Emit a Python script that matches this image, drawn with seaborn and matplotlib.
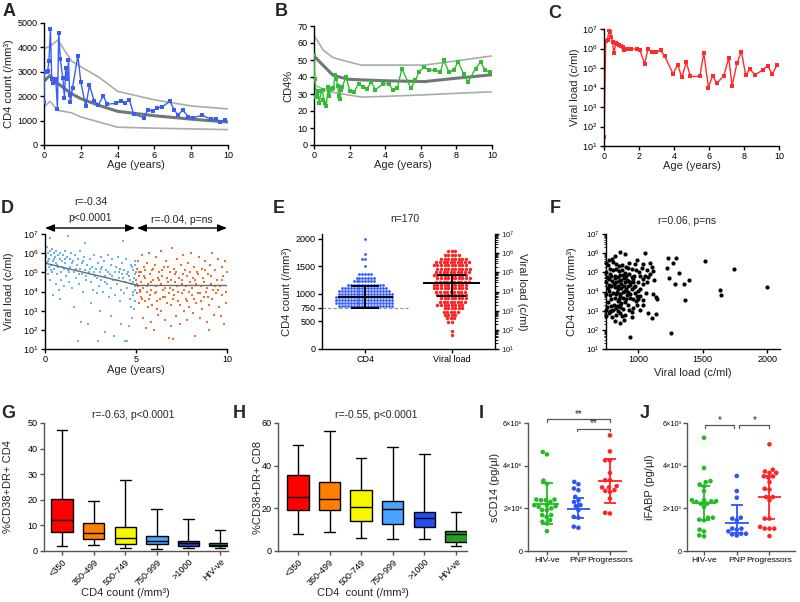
import warnings
warnings.filterwarnings('ignore')
import numpy as np
import pandas as pd
import matplotlib
matplotlib.use('Agg')
import matplotlib.pyplot as plt
import seaborn as sns
from matplotlib.ticker import LogLocator, NullLocator, NullFormatter

# ---------------- data ----------------
# A: CD4 count vs age
a_age = [0, 0.02, 0.15, 0.2, 0.27, 0.35, 0.42, 0.49, 0.56, 0.64,
         0.73, 0.8, 0.89, 1.02, 1.11, 1.18, 1.27, 1.33, 1.4, 1.44,
         1.55, 1.84, 2.0, 2.27, 2.47, 2.73, 2.95, 3.22, 3.44, 3.93,
         4.16, 4.42, 4.64, 4.87, 5.42, 5.65, 5.91, 6.16, 6.42, 6.84,
         7.09, 7.27, 7.55, 7.84, 8.09, 8.58, 9.09, 9.33, 9.58, 9.84]
a_cd4 = [1760, 3000, 3000, 3030, 3440, 4750, 2690, 2550, 2590, 2710,
         1490, 4610, 3510, 2750, 1930, 3140, 2710, 3480, 2040, 1750,
         2350, 3660, 2590, 1580, 2440, 1800, 1650, 2010, 1670, 1710,
         1820, 1740, 1850, 1270, 1120, 1450, 1390, 1530, 1560, 1790,
         1430, 1240, 1420, 1160, 1120, 1210, 1060, 1070, 950, 1030]
a_ref_age = [0, 0.33, 0.75, 1.5, 2, 3, 4, 6, 8, 10]
a_ref_mean = [2620, 2850, 2520, 2100, 1900, 1620, 1380, 1200, 1060, 940]
a_ref_upper = [3950, 4050, 4300, 3440, 3210, 2770, 2200, 1850, 1600, 1480]
a_ref_lower = [1560, 1790, 1420, 1320, 1150, 940, 730, 690, 660, 630]

# B: CD4% vs age
b_age = [0, 0.04, 0.13, 0.22, 0.3, 0.41, 0.49, 0.52, 0.62, 0.69,
         0.79, 0.85, 0.95, 1.03, 1.09, 1.18, 1.25, 1.33, 1.39, 1.44,
         1.5, 1.57, 1.8, 2.02, 2.25, 2.5, 2.75, 2.96, 3.22, 3.45,
         3.9, 4.2, 4.42, 4.68, 4.94, 5.43, 5.7, 5.9, 6.2, 6.44,
         6.8, 7.1, 7.3, 7.57, 7.85, 8.1, 8.4, 8.65, 9.08, 9.36,
         9.6, 9.9]
b_pct = [53, 39, 28, 32, 25, 31.5, 32.5, 26.6, 25, 23,
         34, 29, 33, 33.2, 33.4, 41, 39, 35, 29, 27,
         32.5, 34, 40, 31.5, 31.3, 36, 34, 33, 37, 32.5,
         36, 36, 32.5, 33.4, 45, 33.4, 38, 43, 46, 44,
         44, 43, 50, 43, 44, 49, 42, 37, 45, 49,
         44, 43]
b_ref_age = [0, 0.5, 1.07, 1.9, 2.66, 4, 6.2, 8, 10]
b_ref_mean = [52.4, 47, 41, 38.7, 38.3, 37.8, 37.3, 39.3, 41.3]
b_ref_upper = [64.7, 56, 51.4, 49, 47, 47, 47, 49.5, 52.4]
b_ref_lower = [35.4, 33, 31, 29.5, 28.2, 28.6, 29.5, 30.4, 31.3]

# C: viral load vs age (log10 exponents)
c_age = [0, 0.1, 0.2, 0.29, 0.34, 0.42, 0.49, 0.57, 0.67, 0.76,
         0.86, 0.95, 1.06, 1.14, 1.22, 1.33, 1.44, 1.56, 1.86, 2.05,
         2.32, 2.51, 2.74, 2.97, 3.23, 3.46, 3.95, 4.2, 4.45, 4.7,
         4.94, 5.48, 5.7, 5.97, 6.2, 6.46, 6.84, 7.13, 7.32, 7.6,
         7.85, 8.1, 8.33, 8.63, 9.09, 9.35, 9.62, 9.89]
c_vl_exp = [1.48, 6.41, 6.45, 6.97, 6.85, 6.59, 6.32, 5.77, 6.28, 6.25,
            6.18, 6.11, 6.08, 5.9, 5.99, 5.99, 5.97, 5.97, 5.97, 5.94,
            5.2, 5.97, 5.8, 5.8, 5.9, 5.63, 4.7, 5.17, 4.52, 5.3,
            4.57, 4.57, 5.77, 4.0, 4.6, 4.22, 4.6, 5.51, 4.09, 5.25,
            5.84, 4.62, 4.95, 4.65, 4.91, 5.12, 4.67, 5.17]

# D: viral load vs age, cohort (log10 exponents)
d_young_age = [0.02, 0.05, 0.08, 0.1, 0.12, 0.15, 0.18, 0.2, 0.22, 0.25,
               0.28, 0.3, 0.32, 0.35, 0.38, 0.4, 0.42, 0.45, 0.48, 0.5,
               0.55, 0.58, 0.6, 0.62, 0.65, 0.7, 0.72, 0.75, 0.8, 0.82,
               0.85, 0.88, 0.9, 0.95, 1.0, 1.02, 1.05, 1.1, 1.12, 1.15,
               1.2, 1.25, 1.28, 1.3, 1.35, 1.4, 1.45, 1.5, 1.55, 1.6,
               1.62, 1.65, 1.7, 1.75, 1.8, 1.82, 1.85, 1.9, 1.95, 2.0,
               2.02, 2.05, 2.1, 2.15, 2.2, 2.22, 2.25, 2.3, 2.35, 2.4,
               2.45, 2.5, 2.55, 2.6, 2.65, 2.7, 2.75, 2.8, 2.85, 2.9,
               2.92, 2.95, 3.0, 3.02, 3.05, 3.1, 3.15, 3.2, 3.25, 3.3,
               3.32, 3.35, 3.4, 3.45, 3.5, 3.55, 3.6, 3.62, 3.65, 3.7,
               3.75, 3.8, 3.82, 3.85, 3.9, 3.95, 4.0, 4.05, 4.1, 4.12,
               4.15, 4.2, 4.22, 4.25, 4.3, 4.32, 4.35, 4.4, 4.42, 4.45,
               4.5, 4.52, 4.55, 4.6, 4.62, 4.65, 4.7, 4.72, 4.75, 4.8,
               4.82, 4.85, 4.88, 4.9, 4.92, 4.95, 4.97, 4.99, 0.06, 0.14,
               0.33, 0.52, 0.68, 0.92, 1.08, 1.32, 1.48, 1.68, 1.88, 2.08,
               2.28, 2.48, 2.68, 2.88, 3.08, 3.28, 3.48, 3.68, 3.88, 4.08,
               4.28, 4.48, 4.68, 4.78, 4.84, 4.93, 4.96, 4.98, 4.94, 4.86]
d_young_exp = [6.2, 5.1, 5.8, 6.3, 5.5, 4.9, 6.0, 5.3, 5.7, 6.1,
               4.6, 6.8, 5.9, 5.4, 6.2, 5.0, 5.6, 3.8, 6.0, 5.2,
               5.8, 4.4, 6.1, 5.5, 4.9, 5.9, 5.3, 4.1, 3.6, 5.7,
               6.0, 5.0, 4.6, 5.6, 5.9, 4.3, 5.2, 6.1, 5.5, 4.8,
               5.8, 5.1, 6.9, 4.5, 5.7, 5.3, 6.0, 4.2, 5.6, 3.2,
               5.0, 5.9, 4.7, 5.4, 1.4, 5.7, 4.4, 5.2, 6.1, 2.4,
               4.9, 5.5, 4.0, 5.8, 6.55, 5.1, 4.6, 5.4, 2.3, 5.0,
               5.7, 3.4, 4.5, 5.3, 4.1, 5.9, 4.8, 5.2, 3.9, 1.4,
               5.5, 4.3, 3.0, 5.0, 5.8, 4.6, 5.3, 4.0, 5.6, 1.9,
               4.8, 5.1, 4.4, 5.9, 3.7, 4.9, 2.7, 5.4, 4.2, 5.7,
               4.6, 1.7, 5.0, 3.8, 5.3, 4.4, 5.8, 4.7, 3.5, 5.2,
               4.1, 2.3, 5.5, 4.9, 6.65, 3.9, 5.1, 1.4, 4.5, 5.7,
               1.4, 4.2, 5.0, 2.2, 4.8, 3.6, 5.4, 4.4, 3.2, 2.6,
               5.1, 4.0, 4.7, 3.1, 5.6, 4.3, 3.5, 5.0, 5.9, 5.6,
               5.1, 5.7, 5.4, 5.3, 5.7, 5.0, 5.5, 5.2, 4.9, 5.6,
               4.8, 5.2, 5.0, 4.7, 5.2, 4.5, 5.0, 4.8, 4.6, 5.0,
               4.7, 4.9, 4.6, 5.3, 4.5, 4.9, 4.1, 4.6, 5.4, 3.8]
d_old_age = [5.02, 5.05, 5.08, 5.1, 5.12, 5.15, 5.18, 5.2, 5.25, 5.28,
             5.3, 5.35, 5.38, 5.4, 5.45, 5.48, 5.5, 5.55, 5.58, 5.6,
             5.65, 5.68, 5.7, 5.75, 5.78, 5.8, 5.85, 5.88, 5.9, 5.95,
             6.0, 6.02, 6.05, 6.1, 6.12, 6.15, 6.2, 6.22, 6.25, 6.3,
             6.35, 6.38, 6.4, 6.45, 6.5, 6.55, 6.58, 6.6, 6.65, 6.7,
             6.75, 6.8, 6.82, 6.85, 6.9, 6.92, 6.95, 7.0, 7.02, 7.05,
             7.08, 7.1, 7.15, 7.2, 7.25, 7.28, 7.3, 7.35, 7.4, 7.45,
             7.5, 7.55, 7.6, 7.62, 7.65, 7.7, 7.75, 7.8, 7.82, 7.85,
             7.9, 7.95, 8.0, 8.05, 8.1, 8.15, 8.2, 8.22, 8.25, 8.3,
             8.35, 8.4, 8.45, 8.5, 8.55, 8.6, 8.65, 8.7, 8.75, 8.8,
             8.85, 8.9, 8.95, 9.0, 9.02, 9.05, 9.1, 9.15, 9.2, 9.25,
             9.3, 9.35, 9.4, 9.45, 9.5, 9.55, 9.6, 9.65, 9.7, 9.75,
             9.8, 9.85, 9.9, 9.92, 9.95, 9.98, 5.06, 5.22, 5.42, 5.62,
             5.82, 6.08, 6.28, 6.48, 6.68, 6.88, 7.12, 7.32, 7.52, 7.72,
             7.92, 8.12, 8.32, 8.52, 8.72, 8.92, 9.12, 9.32, 9.52, 9.72,
             5.14, 5.34, 5.52, 5.72, 5.92, 6.18, 6.42, 6.62, 6.78, 7.06,
             7.22, 7.42, 7.58, 7.78, 7.98, 8.18, 8.38, 8.58, 8.78, 8.98]
d_old_exp = [4.6, 5.2, 3.9, 4.3, 5.6, 3.4, 4.8, 4.1, 5.0, 3.7,
             4.5, 5.9, 2.6, 4.2, 5.3, 3.5, 4.7, 2.1, 4.0, 5.5,
             3.2, 4.4, 6.0, 3.8, 4.9, 2.4, 4.1, 5.1, 3.3, 4.6,
             2.0, 5.4, 3.9, 4.3, 5.8, 3.1, 4.7, 2.8, 5.0, 3.6,
             4.4, 6.1, 3.0, 4.8, 3.7, 5.3, 2.5, 4.2, 5.6, 3.4,
             4.5, 1.6, 3.9, 5.0, 2.2, 4.6, 3.3, 6.25, 4.1, 1.5,
             5.2, 3.8, 4.9, 2.7, 4.3, 5.7, 3.5, 4.7, 2.3, 5.4,
             3.9, 4.4, 5.9, 3.0, 4.1, 5.1, 3.6, 2.5, 4.8, 5.5,
             3.2, 4.5, 6.0, 3.8, 4.2, 2.9, 5.3, 1.7, 4.6, 3.4,
             5.0, 3.9, 5.8, 2.6, 4.3, 5.2, 3.1, 4.7, 3.7, 5.6,
             4.0, 2.4, 4.9, 3.3, 2.0, 5.4, 4.4, 3.6, 6.0, 4.1,
             2.8, 5.1, 3.9, 4.6, 5.7, 3.2, 4.3, 2.7, 5.3, 3.8,
             4.8, 2.3, 5.6, 4.0, 3.4, 5.0, 4.4, 4.0, 4.8, 4.3,
             4.5, 4.0, 4.6, 4.1, 4.7, 4.2, 4.5, 4.0, 4.6, 4.3,
             4.0, 4.7, 4.4, 3.9, 4.5, 4.2, 4.8, 4.3, 4.1, 4.6,
             5.0, 3.6, 5.1, 3.6, 5.2, 3.5, 5.1, 3.7, 5.3, 3.6,
             5.0, 3.3, 4.9, 3.5, 5.0, 3.6, 4.9, 3.5, 5.1, 3.7]
d_fit_young_age = [0, 5]
d_fit_young_exp = [5.48, 4.35]
d_fit_old_age = [5, 10]
d_fit_old_exp = [4.32, 4.32]

# E: CD4 counts and viral loads of 170 children (value levels and counts)
e_cd4_levels = [780, 835, 890, 945, 1000, 1055, 1110, 1165, 1230, 1291,
                1370, 1515, 1636, 1733, 2000]
e_cd4_counts = [19, 20, 20, 20, 19, 18, 16, 13, 8, 7,
                5, 1, 2, 1, 1]
e_vl_exp_levels = [6.1, 5.9, 5.72, 5.55, 5.38, 5.2, 5.03, 4.86, 4.68, 4.51,
                   4.34, 4.16, 3.99, 3.82, 3.64, 3.47, 3.3, 3.12, 2.95, 2.78,
                   2.6, 2.43, 1.93, 1.72]
e_vl_counts = [3, 5, 8, 10, 10, 10, 10, 10, 10, 10,
               10, 10, 9, 9, 8, 8, 8, 6, 5, 4,
               3, 2, 1, 1]
e_cd4_summary = [740, 945, 1140]          # low, centre, high
e_vl_summary_exp = [3.74, 4.44, 4.87]

# F: CD4 count (x) vs viral load (y, log10 exponent)
f_cd4 = [1520, 1741, 2001, 1632, 1642, 1364, 1252, 935, 1395, 1354,
         1315, 1294, 1232, 1268, 1221, 1242, 1286, 862, 896, 1050,
         816, 795, 774, 750, 766, 992, 977, 930, 1034, 1026,
         1104, 1117, 1052, 1078, 1122, 1013, 1000, 1039, 956, 935,
         922, 1013, 1117, 1138, 1148, 1039, 1013, 1034, 1013, 1078,
         1104, 1138, 948, 953, 901, 891, 857, 821, 753, 750,
         779, 805, 831, 857, 883, 844, 792, 766, 753, 766,
         753, 758, 753, 779, 805, 831, 852, 878, 896, 818,
         844, 862, 888, 909, 930, 948, 966, 800, 826, 852,
         870, 896, 914, 940, 961, 792, 818, 844, 870, 896,
         922, 948, 974, 805, 831, 857, 883, 909, 935, 961,
         982, 818, 844, 870, 792, 810, 836, 862, 896, 922,
         987, 1000, 774, 784, 878, 904, 922, 805, 831, 852,
         948, 982, 1008, 1065, 1091, 1039, 1065, 974, 987, 961,
         930, 857, 826, 878, 800, 774, 784, 818, 836, 862,
         888, 914, 940, 966, 770, 790, 812, 840, 865, 885,
         905, 760, 775, 790, 850, 880, 920, 1000, 1060, 1090]
f_vl_exp = [5.58, 5.17, 4.23, 4.09, 3.84, 3.55, 1.81, 1.62, 4.60, 4.39,
            4.94, 5.76, 5.76, 5.49, 5.24, 4.69, 4.37, 6.08, 5.97, 6.00,
            5.83, 5.72, 5.63, 5.49, 5.37, 5.65, 5.44, 5.47, 5.45, 5.22,
            5.26, 5.05, 4.83, 4.74, 4.62, 4.83, 4.51, 4.39, 4.66, 4.48,
            4.30, 4.12, 3.89, 3.71, 3.63, 3.54, 3.77, 3.32, 3.06, 2.88,
            2.61, 2.81, 2.95, 2.65, 2.77, 2.52, 2.35, 2.47, 2.74, 3.02,
            2.97, 3.06, 3.13, 3.20, 3.11, 2.97, 3.23, 3.45, 3.86, 4.16,
            4.48, 4.74, 5.01, 5.19, 5.10, 5.19, 5.05, 5.10, 4.98, 4.83,
            4.74, 4.87, 4.69, 4.80, 4.92, 4.74, 4.83, 4.57, 4.48, 4.57,
            4.39, 4.48, 4.62, 4.34, 4.51, 4.30, 4.21, 4.12, 4.16, 4.03,
            3.98, 4.12, 3.94, 3.94, 3.86, 3.77, 3.68, 3.59, 3.68, 3.63,
            3.50, 3.68, 3.50, 3.41, 3.59, 3.32, 3.23, 3.32, 3.45, 3.27,
            3.77, 3.59, 4.66, 4.92, 5.37, 5.28, 5.22, 5.54, 5.45, 5.33,
            5.15, 5.10, 5.01, 5.10, 4.92, 4.66, 4.48, 4.30, 3.27, 3.15,
            3.06, 2.88, 2.79, 2.70, 2.67, 4.03, 3.80, 4.69, 3.98, 3.89,
            4.30, 3.80, 3.86, 4.21, 4.35, 4.80, 4.40, 4.30, 4.60, 3.95,
            4.15, 3.20, 2.90, 3.00, 3.60, 4.85, 4.55, 4.05, 3.90, 5.50]

# G / H: activated T cells by CD4 stratum (box summaries)
gh_groups = ['<350', '350-499', '500-749', '750-999', '>1000', 'HIV-ve']
g_low = [2.0, 2.2, 1.2, 0.6, 1.2, 1.2]
g_q1 = [7.6, 4.8, 2.6, 2.6, 2.1, 1.8]
g_med = [12.3, 7.0, 4.9, 4.0, 3.0, 2.5]
g_q3 = [20.3, 10.9, 9.3, 5.8, 4.0, 3.1]
g_high = [47.3, 19.4, 27.7, 16.3, 12.5, 8.1]
h_low = [8.0, 8.9, 6.3, 5.8, 5.5, 2.4]
h_q1 = [19.1, 19.1, 14.1, 12.5, 11.2, 4.4]
h_med = [25.3, 24.4, 20.5, 19.6, 15.6, 8.0]
h_q3 = [35.6, 32.4, 28.8, 23.6, 18.5, 9.6]
h_high = [49.7, 56.2, 43.6, 48.8, 45.6, 18.5]
g_colors = ['#ff0000', '#ff8000', '#f7f700', '#48a4ff', '#2a44c8', '#22a022']
h_colors = ['#ff0000', '#ff8000', '#f7f700', '#48a4ff', '#2150f5', '#22a022']

# I / J: biomarkers by group
ij_groups = ['HIV-ve', 'PNP', 'Progressors']
ij_colors = ['#22bb22', '#2d55f5', '#ff2424']
i_hiv = [4.64, 4.53, 3.30, 3.15, 2.41, 2.41, 2.38, 2.38, 2.30, 2.15, 2.15, 2.10,
         2.00, 2.07, 1.92, 1.92, 1.68, 1.68, 1.60, 1.45, 1.29, 1.37, 0.93]
i_pnp = [3.24, 3.13, 2.93, 2.85, 2.54, 2.38, 2.30, 2.15, 2.10, 1.92, 1.60,
         1.56, 1.14, 1.09]
i_prog = [5.42, 4.67, 4.25, 4.25, 3.66, 3.32, 3.32, 3.04, 2.98, 2.98, 2.85,
          2.82, 2.77, 2.46, 1.79, 1.76]
i_low = [1.28, 1.56, 2.27]
i_med = [2.20, 1.98, 3.29]
i_high = [3.18, 2.49, 4.30]
j_hiv = [5.31, 3.89, 3.28, 3.23, 3.12, 3.03, 2.81, 2.38, 2.38, 2.34, 2.30, 2.33,
         2.22, 2.22, 2.06, 1.47, 1.44, 1.56, 1.56, 1.00, 0.92, 0.73, 0.69]
j_pnp = [3.52, 2.81, 2.50, 1.52, 1.56, 1.44, 1.05, 1.05, 1.00, 0.78, 0.73,
         0.81, 0.81, 0.92]
j_prog = [5.00, 3.73, 3.81, 3.66, 3.66, 3.50, 3.50, 3.44, 3.23, 2.88, 2.92,
          2.53, 2.38, 2.53, 1.52, 1.52, 1.13, 1.05, 1.05, 1.05, 0.70]
j_low = [1.47, 0.85, 1.52]
j_med = [2.25, 1.31, 2.55]
j_high = [3.05, 2.17, 3.50]

# ---------------- styling ----------------
sns.set_theme(style='ticks')
plt.rcParams['font.family'] = ['Liberation Sans', 'DejaVu Sans']
plt.rcParams['axes.unicode_minus'] = False

W, H = 800, 602
TICK = 6.5
LAB = 8
GRAY_D = '#6e7874'
GRAY_L = '#a6aeac'

fig = plt.figure(figsize=(8, 6.02), dpi=100)
BOX = {}


def make_ax(l, t, r, b):
    ax = fig.add_axes([l / W, 1 - b / H, (r - l) / W, (b - t) / H])
    BOX[ax] = (l, t, r, b)
    return ax


def style(ax, spine='black'):
    sns.despine(ax=ax)
    for s in ('left', 'bottom'):
        ax.spines[s].set_linewidth(1.0)
        ax.spines[s].set_color(spine)
    ax.tick_params(direction='out', length=3, width=1.0, color=spine,
                   labelcolor='black', labelsize=TICK, pad=1.5)
    ax.grid(False)


def ylab(ax, text, right_px):
    l, t, r, b = BOX[ax]
    ax.set_ylabel(text, fontsize=LAB)
    ax.yaxis.set_label_coords((right_px - l) / (r - l), 0.5)


def xlab(ax, text, top_px, center_px=None):
    l, t, r, b = BOX[ax]
    ax.set_xlabel(text, fontsize=LAB)
    cx = 0.5 if center_px is None else (center_px - l) / (r - l)
    ax.xaxis.set_label_coords(cx, -(top_px - b) / (b - t))


def log_axis(axis, minor=False):
    axis.set_major_locator(LogLocator(base=10, numticks=10))
    if minor:
        axis.set_minor_locator(LogLocator(base=10, subs=np.arange(2, 10), numticks=10))
        axis.set_minor_formatter(NullFormatter())
    else:
        axis.set_minor_locator(NullLocator())


def letter(x, y, s):
    fig.text(x / W, 1 - y / H, s, fontsize=13, fontweight='bold', va='top', ha='left')


def med_bar(ax, x, low, mid, high, color, hw_mid, hw_cap, lw):
    ax.hlines(mid, x - hw_mid, x + hw_mid, color=color, lw=lw, zorder=6)
    ax.hlines([low, high], x - hw_cap, x + hw_cap, color=color, lw=lw, zorder=6)
    ax.vlines(x, low, high, color=color, lw=lw, zorder=6)


# ---------------- A ----------------
axA = make_ax(44, 23, 228, 145)
for yy, c, lw in ((a_ref_upper, GRAY_L, 1.2), (a_ref_lower, GRAY_L, 1.2), (a_ref_mean, GRAY_D, 2.2)):
    sns.lineplot(x=a_ref_age, y=yy, color=c, lw=lw, ax=axA, zorder=1)
sns.lineplot(x=a_age, y=a_cd4, color='#3a5df2', lw=1.0, marker='s', markersize=2.2,
             markeredgewidth=0, ax=axA, zorder=3)
axA.set_xlim(0, 10)
axA.set_ylim(0, 5000)
axA.set_xticks(range(0, 11, 2))
axA.set_yticks(range(0, 5001, 1000))
style(axA)
ylab(axA, 'CD4 count (/mm³)', 14)
xlab(axA, 'Age (years)', 160)

# ---------------- B ----------------
axB = make_ax(314, 26, 492, 145)
for yy, c, lw in ((b_ref_upper, GRAY_L, 1.2), (b_ref_lower, GRAY_L, 1.2), (b_ref_mean, GRAY_D, 2.2)):
    sns.lineplot(x=b_ref_age, y=yy, color=c, lw=lw, ax=axB, zorder=1)
sns.lineplot(x=b_age, y=b_pct, color='#33bb33', lw=1.0, marker='s', markersize=2.2,
             markeredgewidth=0, ax=axB, zorder=3)
axB.set_xlim(0, 10)
axB.set_ylim(0, 70)
axB.set_xticks(range(0, 11, 2))
axB.set_yticks(range(0, 71, 10))
style(axB)
ylab(axB, 'CD4%', 293)
xlab(axB, 'Age (years)', 160)

# ---------------- C ----------------
axC = make_ax(604, 29, 779, 146)
axC.set_yscale('log')
sns.lineplot(x=c_age, y=10.0 ** np.array(c_vl_exp), color='#ff2a2a', lw=1.0, marker='s',
             markersize=2.2, markeredgewidth=0, ax=axC)
axC.set_xlim(0, 10)
axC.set_ylim(10, 1e7)
axC.set_xticks(range(0, 11, 2))
log_axis(axC.yaxis)
style(axC)
ylab(axC, 'Viral load (c/ml)', 580)
xlab(axC, 'Age (years)', 161)

# ---------------- D ----------------
axD = make_ax(45, 234, 227, 349)
axD.set_yscale('log')
sns.scatterplot(x=d_young_age, y=10.0 ** np.array(d_young_exp), color='#63b3f7', marker='s',
                s=4.5, linewidth=0, ax=axD)
sns.scatterplot(x=d_old_age, y=10.0 ** np.array(d_old_exp), color='#ff6a21', marker='s',
                s=4.5, linewidth=0, ax=axD)
sns.lineplot(x=d_fit_young_age, y=10.0 ** np.array(d_fit_young_exp), color='#6a6a6a', lw=1.0, ax=axD)
sns.lineplot(x=d_fit_old_age, y=10.0 ** np.array(d_fit_old_exp), color='#6a6a6a', lw=1.0, ax=axD)
axD.set_xlim(0, 10)
axD.set_ylim(10, 1e7)
axD.set_xticks([0, 5, 10])
log_axis(axD.yaxis)
style(axD)
ylab(axD, 'Viral load (c/ml)', 14)
xlab(axD, 'Age (years)', 365)
arrow_kw = dict(arrowstyle='<|-|>,head_length=0.45,head_width=0.18', color='black', lw=1.0,
                shrinkA=0, shrinkB=0)
axD.annotate('', xy=(0, 1.052), xytext=(4.95, 1.052), xycoords=('data', 'axes fraction'),
             textcoords=('data', 'axes fraction'), arrowprops=arrow_kw, annotation_clip=False)
axD.annotate('', xy=(5.05, 1.052), xytext=(10, 1.052), xycoords=('data', 'axes fraction'),
             textcoords=('data', 'axes fraction'), arrowprops=arrow_kw, annotation_clip=False)
tD = axD.get_xaxis_transform()
axD.text(2.5, 1.278, 'r=-0.34', transform=tD, ha='center', va='center', fontsize=7.5)
axD.text(2.5, 1.139, 'p<0.0001', transform=tD, ha='center', va='center', fontsize=7.5)
axD.text(7.5, 1.122, 'r=-0.04, p=ns', transform=tD, ha='center', va='center', fontsize=7.5)

# ---------------- E ----------------
axE = make_ax(322, 234, 495, 349)
axE2 = axE.twinx()
BOX[axE2] = BOX[axE]
axE2.set_yscale('log')
cd4_vals = np.repeat(e_cd4_levels, e_cd4_counts).astype(float)
vl_vals = 10.0 ** np.repeat(e_vl_exp_levels, e_vl_counts)
sns.swarmplot(x=np.zeros(len(cd4_vals)), y=cd4_vals, native_scale=True, orient='x',
              color='#2f5bff', size=2.0, linewidth=0, ax=axE)
sns.swarmplot(x=np.ones(len(vl_vals)), y=vl_vals, native_scale=True, orient='x',
              color='#ff2020', size=2.45, linewidth=0, ax=axE2)
axE.set_ylim(0, 2090)
axE2.set_ylim(10, 1e7)
axE.set_xlim(-0.5, 1.5)
axE.hlines(750, -0.5, 0.49, linestyles=(0, (3, 2)), color='#7d9c9c', lw=0.8, zorder=0)
med_bar(axE, 0, e_cd4_summary[0], e_cd4_summary[1], e_cd4_summary[2], 'black', 0.32, 0.16, 1.4)
med_bar(axE2, 1, 10 ** e_vl_summary_exp[0], 10 ** e_vl_summary_exp[1], 10 ** e_vl_summary_exp[2],
        'black', 0.33, 0.17, 1.4)
axE.set_yticks([0, 500, 750, 1000, 1500, 2000])
axE.set_xticks([0, 1])
axE.set_xticklabels(['CD4', 'Viral load'])
style(axE)
axE.spines['right'].set_visible(False)
log_axis(axE2.yaxis, minor=True)
for s in ('top', 'left', 'bottom'):
    axE2.spines[s].set_visible(False)
axE2.spines['right'].set_linewidth(1.0)
axE2.spines['right'].set_color('black')
axE2.tick_params(direction='out', length=3, width=1.0, color='black', labelsize=5.8, pad=1.0)
axE2.tick_params(which='minor', direction='out', length=1.8, width=0.6, color='black')
axE2.grid(False)
ylab(axE, 'CD4 count (/mm³)', 292)
axE2.set_ylabel('Viral load (c/ml)', fontsize=LAB, rotation=270, va='bottom')
axE2.yaxis.set_label_coords((517 - 322) / (495 - 322), 0.5)
axE.text((405 - 322) / 173, 1.13, 'n=170', transform=axE.transAxes, ha='center', va='center',
         fontsize=7.5)

# ---------------- F ----------------
axF = make_ax(606, 234, 780, 349)
axF.set_yscale('log')
sns.scatterplot(x=f_cd4, y=10.0 ** np.array(f_vl_exp), color='black', s=9, linewidth=0, ax=axF,
                clip_on=False)
axF.set_xlim(750, 2100)
axF.set_ylim(10, 1e7)
axF.set_xticks([1000, 1500, 2000])
log_axis(axF.yaxis, minor=True)
style(axF)
axF.tick_params(axis='y', labelsize=5.8)
axF.tick_params(which='minor', direction='out', length=1.8, width=0.6, color='black')
ylab(axF, 'CD4 count (/mm³)', 577)
xlab(axF, 'Viral load (c/ml)', 368)
axF.text((687 - 606) / 174, 1.113, 'r=0.06, p=ns', transform=axF.transAxes, ha='center',
         va='center', fontsize=7.5)


# ---------------- G / H ----------------
def box_panel(ax, lows, q1s, meds, q3s, highs, colors, ymax, yticks, xl, yl, ylabel_px,
              xlabel, xlabel_center, title, title_x):
    df = pd.DataFrame({
        'grp': np.repeat(gh_groups, 5),
        'val': np.column_stack([lows, q1s, meds, q3s, highs]).ravel(),
    })
    sns.boxplot(data=df, x='grp', y='val', hue='grp', order=gh_groups, hue_order=gh_groups,
                palette=dict(zip(gh_groups, colors)), saturation=1, whis=(0, 100), width=0.68,
                linecolor='black', linewidth=1.0, legend=False, showfliers=False, ax=ax)
    ax.set_ylim(0, ymax)
    ax.set_yticks(yticks)
    ax.set_xlim(*xl)
    ax.set_xticks(range(len(gh_groups)))
    ax.set_xticklabels(gh_groups, rotation=45, ha='right', rotation_mode='anchor', fontsize=6.5)
    style(ax, spine='#555555')
    ax.set_xlabel('')
    ylab(ax, yl, ylabel_px)
    l, t, r, b = BOX[ax]
    ax.set_xlabel(xlabel, fontsize=LAB)
    ax.xaxis.set_label_coords((xlabel_center - l) / (r - l), -(588 - b) / (b - t))
    ax.text((title_x - l) / (r - l), (b - 415) / (b - t), title, transform=ax.transAxes,
            ha='center', va='center', fontsize=7.5)


axG = make_ax(44, 423, 228, 551)
box_panel(axG, g_low, g_q1, g_med, g_q3, g_high, g_colors, 50, range(0, 51, 10), (-0.57, 5.25),
          '%CD38+DR+ CD4', 13, 'CD4 count (/mm³)', 125, 'r=-0.63, p<0.0001', 133)
axH = make_ax(278, 423, 467, 551)
box_panel(axH, h_low, h_q1, h_med, h_q3, h_high, h_colors, 60, range(0, 61, 20), (-0.63, 5.35),
          '%CD38+DR+ CD8', 263, 'CD4  count (/mm³)', 363, 'r=-0.55, p<0.0001', 376)


# ---------------- I / J ----------------
def dot_panel(ax, groups_vals, scale, lows, meds, highs, xl, yticklabels, ylabel, ylabel_px,
              brackets, hw_mid, hw_cap):
    df = pd.DataFrame({
        'grp': np.concatenate([[g] * len(v) for g, v in zip(ij_groups, groups_vals)]),
        'val': np.concatenate(groups_vals) * scale,
    })
    sns.swarmplot(data=df, x='grp', y='val', hue='grp', order=ij_groups, hue_order=ij_groups,
                  palette=dict(zip(ij_groups, ij_colors)), size=3.3, linewidth=0, legend=False,
                  ax=ax)
    for k in range(3):
        med_bar(ax, k, lows[k] * scale, meds[k] * scale, highs[k] * scale, ij_colors[k],
                hw_mid, hw_cap, 1.3)
    ax.set_ylim(0, 6 * scale)
    ax.set_yticks([0, 2 * scale, 4 * scale, 6 * scale])
    ax.set_yticklabels(yticklabels, fontsize=5.2)
    ax.set_xlim(*xl)
    ax.set_xticks(range(3))
    ax.set_xticklabels(ij_groups, fontsize=6.1)
    style(ax, spine='#555555')
    ax.tick_params(axis='y', labelsize=5.2, pad=1.0)
    ax.tick_params(axis='x', labelsize=6.1)
    ax.set_xlabel('')
    ylab(ax, ylabel, ylabel_px)
    for x0, x1, yv, s in brackets:
        y = yv * scale
        d = 0.12 * scale
        ax.plot([x0, x0, x1, x1], [y - d, y, y, y - d], color='#555555', lw=0.9, clip_on=False)
        ax.text((x0 + x1) / 2, y + 0.02 * scale, s, ha='center', va='bottom', fontsize=7)


axI = make_ax(528, 423, 626, 551)
dot_panel(axI, [i_hiv, i_pnp, i_prog], 1e6, i_low, i_med, i_high, (-0.6, 2.51),
          ['0', '2×10⁶', '4×10⁶', '6×10⁶'], 'sCD14 (pg/µl)', 500,
          [(0, 2, 6.17, '**'), (0.97, 2, 5.73, '**')], 0.37, 0.18)
axJ = make_ax(687, 423, 795, 551)
dot_panel(axJ, [j_hiv, j_pnp, j_prog], 1e3, j_low, j_med, j_high, (-0.52, 2.78),
          ['0', '2×10³', '4×10³', '6×10³'], 'iFABP (pg/µl)', 655,
          [(0.03, 0.93, 5.89, '*'), (1.08, 2.0, 5.89, '*')], 0.36, 0.18)

# ---------------- panel letters ----------------
for (x, y), s in zip([(3, 3), (275, 3), (548, 5), (1, 200), (273, 200), (550, 200),
                      (1, 405), (233, 405), (479, 405), (640, 405)], 'ABCDEFGHIJ'):
    letter(x, y, s)

fig.savefig('out.png', dpi=100, facecolor='white')
